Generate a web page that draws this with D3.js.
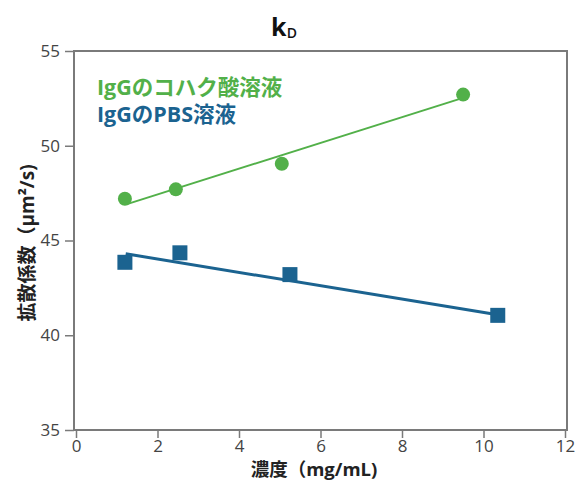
<!DOCTYPE html>
<html><head><meta charset="utf-8">
<script src="https://cdn.jsdelivr.net/npm/d3@7"></script>
<style>
body{margin:0;background:#fff;}
text{font-family:"Open Sans","Noto Sans CJK JP",sans-serif;}
</style></head>
<body><svg id="c" width="579" height="483"></svg>
<script>
const seriesNames = ["IgGのコハク酸溶液", "IgGのPBS溶液"];
const colors = ["#52b049", "#1b6390"];
const succX = [1.2, 2.45, 5.05, 9.5];
const succY = [47.2, 47.7, 49.05, 52.7];
const pbsX = [1.2, 2.55, 5.25, 10.35];
const pbsY = [43.85, 44.35, 43.2, 41.05];
const succFitX = [1.25, 9.4];
const succFitY = [46.92, 52.46];
const pbsFitX = [1.22, 10.2];
const pbsFitY = [44.3, 41.13];
const xTicks = [0, 2, 4, 6, 8, 10, 12];
const yTicks = [35, 40, 45, 50, 55];

const svg = d3.select("#c");
const x = d3.scaleLinear().domain([0, 12]).range([76, 565]);
const y = d3.scaleLinear().domain([35, 55]).range([430, 51]);
const axisCol = "#7a7a7a";

// frame
svg.append("rect").attr("x", 74).attr("y", 51).attr("width", 493).attr("height", 379)
  .attr("fill", "none").attr("stroke", axisCol).attr("stroke-width", 2);

// y axis
const ya = svg.append("g").attr("transform", "translate(74,0)")
  .call(d3.axisLeft(y).tickValues(yTicks).tickSize(9).tickPadding(5));
ya.select(".domain").remove();
ya.selectAll("line").attr("stroke", axisCol).attr("stroke-width", 1.5);
ya.selectAll("text").attr("font-size", 17).attr("fill", "#444").attr("font-weight", 400);

// x axis
const xa = svg.append("g").attr("transform", "translate(0,430)")
  .call(d3.axisBottom(x).tickValues(xTicks).tickSize(8).tickPadding(2));
xa.select(".domain").remove();
xa.selectAll("line").attr("stroke", axisCol).attr("stroke-width", 1.5);
xa.selectAll("text").attr("font-size", 17).attr("fill", "#444").attr("font-weight", 400);

// fit lines
const line = d3.line().x(d => x(d[0])).y(d => y(d[1]));
svg.append("path").datum(d3.zip(succFitX, succFitY)).attr("d", line)
  .attr("stroke", colors[0]).attr("stroke-width", 2).attr("fill", "none");
svg.append("path").datum(d3.zip(pbsFitX, pbsFitY)).attr("d", line)
  .attr("stroke", colors[1]).attr("stroke-width", 3).attr("fill", "none");

// points
svg.append("g").selectAll("circle").data(d3.zip(succX, succY)).join("circle")
  .attr("cx", d => x(d[0])).attr("cy", d => y(d[1])).attr("r", 7).attr("fill", colors[0]);
svg.append("g").selectAll("rect").data(d3.zip(pbsX, pbsY)).join("rect")
  .attr("x", d => x(d[0]) - 7.5).attr("y", d => y(d[1]) - 7.5)
  .attr("width", 15).attr("height", 15).attr("fill", colors[1]);

// title
const t = svg.append("text").attr("x", 284).attr("y", 36).attr("text-anchor", "middle")
  .attr("font-size", 25).attr("font-weight", 700).attr("fill", "#111");
t.append("tspan").text("k");
t.append("tspan").attr("font-size", 14).attr("dy", 2).attr("font-weight", 600).text("D");

// legend
svg.append("text").attr("x", 97).attr("y", 95).attr("font-size", 21.5).attr("font-weight", 700)
  .attr("fill", colors[0]).text(seriesNames[0]);
svg.append("text").attr("x", 97).attr("y", 122).attr("font-size", 21.5).attr("font-weight", 700)
  .attr("fill", colors[1]).text(seriesNames[1]);

// axis titles
svg.append("text").attr("transform", "translate(34,243) rotate(-90)").attr("text-anchor", "middle")
  .attr("font-size", 19).attr("font-weight", 700).attr("fill", "#222").text("拡散係数（μm²/s)");
svg.append("text").attr("x", 314).attr("y", 476).attr("text-anchor", "middle")
  .attr("font-size", 18.5).attr("font-weight", 700).attr("fill", "#222").text("濃度（mg/mL)");
</script></body></html>
